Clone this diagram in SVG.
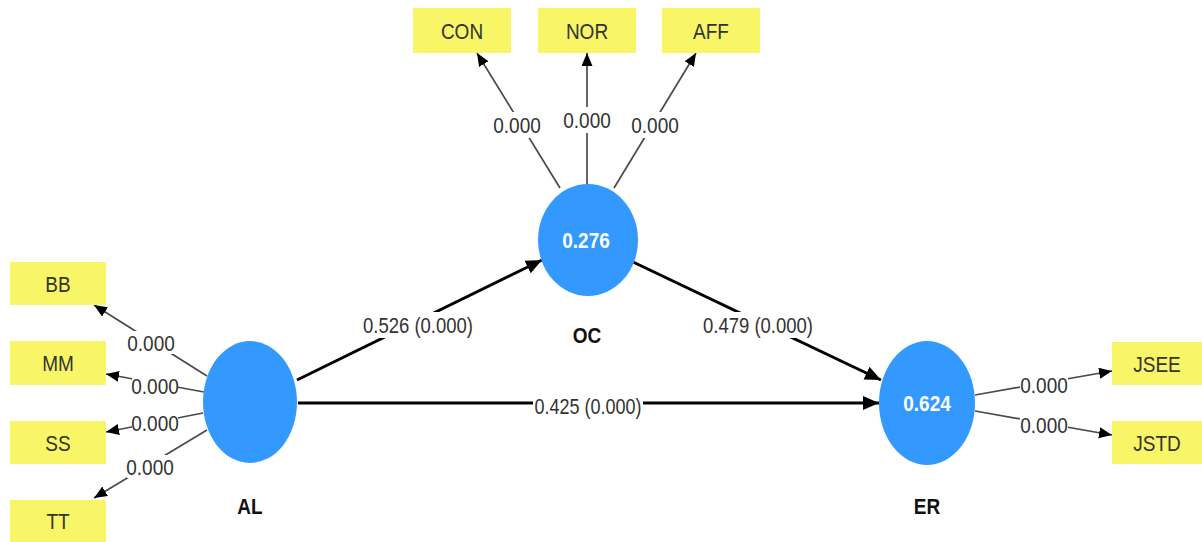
<svg xmlns="http://www.w3.org/2000/svg" width="1202" height="542" viewBox="0 0 1202 542">
  <style>
    text { font-family: "Liberation Sans", Arial, sans-serif; font-size: 19px; text-anchor: middle; }
    .ind rect { fill: #F8F566; }
    .ind text { fill: #333333; }
    .lv ellipse { fill: #3399FF; }
    .lv .val { font-weight: bold; fill: #FFFFFF; }
    .lv .name { font-weight: bold; fill: #111111; }
    .main { stroke: #000000; stroke-width: 3; fill: none; marker-end: url(#headMain); }
    .leaf { stroke: #4a4a4a; stroke-width: 1.7; fill: none; marker-end: url(#headLeaf); }
    .lbl rect { fill: #FFFFFF; }
    .lbl text { fill: #333333; }
  </style>
  <defs>
    <marker id="headMain" markerUnits="userSpaceOnUse" markerWidth="18" markerHeight="16" refX="16" refY="7" orient="auto">
      <path d="M0,0 L16,7 L0,14 z" fill="#000000"/>
    </marker>
    <marker id="headLeaf" markerUnits="userSpaceOnUse" markerWidth="15" markerHeight="13" refX="13" refY="5.5" orient="auto">
      <path d="M0,0 L13,5.5 L0,11 z" fill="#000000"/>
    </marker>
  </defs>

  <rect x="0" y="0" width="1202" height="542" fill="#FFFFFF"/>

  <!-- connectors and their weights -->
  <g id="connectors">
    <!-- structural paths -->
    <line class="main" x1="297" y1="380" x2="542" y2="260"/>
    <line class="main" x1="633" y1="262" x2="881" y2="380"/>
    <line class="main" x1="298" y1="403" x2="879" y2="403"/>
    <!-- OC indicators -->
    <line class="leaf" x1="560" y1="188" x2="477" y2="53"/>
    <line class="leaf" x1="587" y1="184" x2="587" y2="53"/>
    <line class="leaf" x1="614" y1="188" x2="696" y2="53"/>
    <!-- AL indicators -->
    <line class="leaf" x1="207" y1="376" x2="94" y2="305"/>
    <line class="leaf" x1="204" y1="392" x2="106" y2="374"/>
    <line class="leaf" x1="203" y1="413" x2="106" y2="432"/>
    <line class="leaf" x1="207" y1="430" x2="94" y2="498"/>
    <!-- ER indicators -->
    <line class="leaf" x1="975" y1="395" x2="1112" y2="371"/>
    <line class="leaf" x1="975" y1="411" x2="1112" y2="435"/>

    <g class="lbl">
      <rect x="362" y="312" width="112" height="26"/>
      <text transform="translate(418 333) scale(1 1.18)" textLength="110" lengthAdjust="spacingAndGlyphs">0.526 (0.000)</text>
      <rect x="702" y="312" width="112" height="26"/>
      <text transform="translate(758 333) scale(1 1.18)" textLength="110" lengthAdjust="spacingAndGlyphs">0.479 (0.000)</text>
      <rect x="533" y="393" width="110" height="26"/>
      <text transform="translate(588 414) scale(1 1.18)" textLength="107" lengthAdjust="spacingAndGlyphs">0.425 (0.000)</text>

      <rect x="493" y="112" width="48" height="26"/>
      <text transform="translate(517 133) scale(1 1.18)">0.000</text>
      <rect x="563" y="107" width="48" height="26"/>
      <text transform="translate(587 128) scale(1 1.18)">0.000</text>
      <rect x="631" y="112" width="48" height="26"/>
      <text transform="translate(655 133) scale(1 1.18)">0.000</text>

      <rect x="128" y="331" width="46" height="23"/>
      <text transform="translate(151 351) scale(1 1.18)">0.000</text>
      <rect x="132" y="375" width="46" height="22"/>
      <text transform="translate(155 394) scale(1 1.18)">0.000</text>
      <rect x="132" y="412" width="46" height="22"/>
      <text transform="translate(155 431) scale(1 1.18)">0.000</text>
      <rect x="127" y="455" width="46" height="23"/>
      <text transform="translate(150 475) scale(1 1.18)">0.000</text>

      <rect x="1020" y="373" width="48" height="24"/>
      <text transform="translate(1044 393) scale(1 1.18)">0.000</text>
      <rect x="1020" y="413" width="48" height="24"/>
      <text transform="translate(1044 433) scale(1 1.18)">0.000</text>
    </g>
  </g>

  <!-- latent variables -->
  <g id="AL" class="lv">
    <ellipse cx="250" cy="402" rx="47" ry="61"/>
    <text class="name" transform="translate(250 514) scale(1 1.18)">AL</text>
  </g>
  <g id="OC" class="lv">
    <ellipse cx="588" cy="240" rx="50" ry="56"/>
    <text class="val" transform="translate(586 248) scale(1 1.18)">0.276</text>
    <text class="name" transform="translate(587 343) scale(1 1.18)">OC</text>
  </g>
  <g id="ER" class="lv">
    <ellipse cx="927" cy="403" rx="48" ry="62"/>
    <text class="val" transform="translate(927 411) scale(1 1.18)">0.624</text>
    <text class="name" transform="translate(927 514) scale(1 1.18)">ER</text>
  </g>

  <!-- indicators -->
  <g id="CON" class="ind"><rect x="413" y="8" width="98" height="45"/><text transform="translate(462 39) scale(1 1.18)">CON</text></g>
  <g id="NOR" class="ind"><rect x="538" y="8" width="98" height="45"/><text transform="translate(587 39) scale(1 1.18)">NOR</text></g>
  <g id="AFF" class="ind"><rect x="662" y="8" width="98" height="45"/><text transform="translate(711 39) scale(1 1.18)">AFF</text></g>

  <g id="BB" class="ind"><rect x="10" y="262" width="96" height="43"/><text transform="translate(58 292) scale(1 1.18)">BB</text></g>
  <g id="MM" class="ind"><rect x="10" y="341" width="96" height="44"/><text transform="translate(58 371) scale(1 1.18)">MM</text></g>
  <g id="SS" class="ind"><rect x="10" y="421" width="96" height="43"/><text transform="translate(58 451) scale(1 1.18)">SS</text></g>
  <g id="TT" class="ind"><rect x="10" y="500" width="96" height="42"/><text transform="translate(58 529) scale(1 1.18)">TT</text></g>

  <g id="JSEE" class="ind"><rect x="1112" y="342" width="90" height="43"/><text transform="translate(1157 372) scale(1 1.18)">JSEE</text></g>
  <g id="JSTD" class="ind"><rect x="1112" y="421" width="90" height="43"/><text transform="translate(1157 451) scale(1 1.18)">JSTD</text></g>
</svg>
